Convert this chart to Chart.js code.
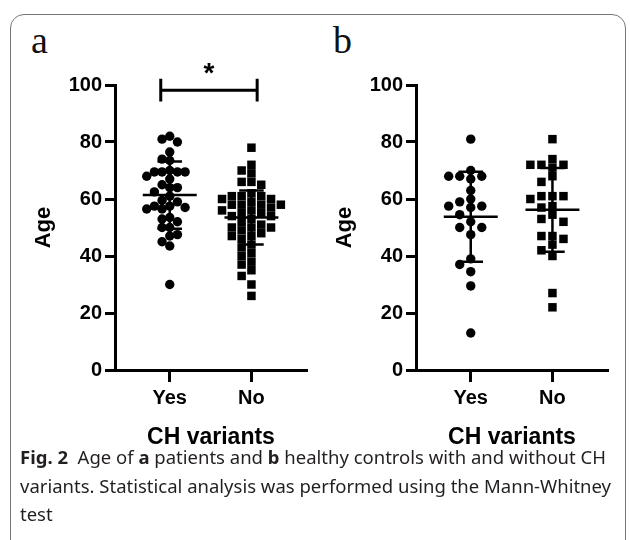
<!DOCTYPE html>
<html>
<head>
<meta charset="utf-8">
<script src="https://cdn.jsdelivr.net/npm/chart.js@4.4.0/dist/chart.umd.min.js"></script>
<style>
  body { margin: 0; background: #fff; width: 630px; height: 540px; position: relative; overflow: hidden; }
  #frame { position: absolute; left: 10px; top: 14px; width: 614px; height: 600px; border: 1px solid #777; border-radius: 14px; }
  .panel { position: absolute; top: 40px; }
  .tag { position: absolute; top: 18px; font-family: "Liberation Serif", serif; font-size: 38px; color: #111; }
  #caption { position: absolute; left: 20px; top: 443px; font-family: "Noto Sans", sans-serif; font-size: 18.5px; line-height: 28.5px; color: #231f20; white-space: nowrap; }
</style>
</head>
<body>
<div id="frame"></div>
<div class="tag" style="left:31px">a</div>
<div class="tag" style="left:333px">b</div>
<canvas id="chartA" class="panel" width="300" height="420" style="left:20px"></canvas>
<canvas id="chartB" class="panel" width="300" height="420" style="left:321px"></canvas>
<div id="caption"><b>Fig. 2</b>&nbsp; Age of <b>a</b> patients and <b>b</b> healthy controls with and without CH<br>variants. Statistical analysis was performed using the Mann-Whitney<br>test</div>

<script>
// values
const groups = ['Yes', 'No'];
const yTicks = [0, 20, 40, 60, 80, 100];

const patientsYes = [82, 81, 80, 76.5, 74, 73.5, 70, 69.5, 69.5, 69.5, 69.5, 68, 67, 65, 64, 64, 62.5, 61,
  59.5, 59, 57.5, 57.5, 57, 56.5, 56.5, 53.5, 53, 52, 50, 50, 47.5, 47, 45, 43.5, 30];
const patientsNo = [78, 72, 70, 69, 66, 66, 65, 62, 61, 61, 61, 60, 60, 59, 58, 58, 58, 58, 57, 56, 56, 55, 55,
  54, 54, 53, 52, 51, 50, 50, 50, 49, 48, 47, 47, 46, 44, 43, 41, 40, 38, 37, 35, 33, 30, 26];
const controlsYes = [81, 70, 68, 68, 68, 67, 63, 60, 59, 57.5, 57.5, 57, 54.5, 52, 50, 50, 47.5, 39, 37, 34.5, 29.5, 13];
const controlsNo = [81, 74, 72, 72, 72, 71, 68, 66, 61, 61, 61, 60, 57.5, 57, 54.5, 53, 52, 47, 47, 46, 44, 42, 40, 27, 22];

const patientMeans = [61.4, 53.5];
const patientSDs = [11.8, 9.5];
const controlMeans = [53.8, 56.2];
const controlSDs = [15.8, 14.7];

const fontFamily = '"Liberation Sans", Arial, sans-serif';

// spread the dots of one column sideways so they don't sit on top of each other
function swarm(values, center, step, minGap) {
  const placed = [];
  return values.map(v => {
    let k = 0;
    for (let i = 0; i < 30; i++) {
      k = i === 0 ? 0 : (i % 2 ? -Math.ceil(i / 2) : Math.ceil(i / 2));
      if (!placed.some(p => p.k === k && Math.abs(p.v - v) < minGap)) break;
    }
    placed.push({ k, v });
    return { x: center + k * step, y: v };
  });
}

// mean line + SD whiskers, broken up with null points
function errorBars(means, sds) {
  const pts = [];
  means.forEach((m, i) => {
    const c = i + 1, s = sds[i];
    pts.push({ x: c - 0.33, y: m }, { x: c + 0.33, y: m }, { x: c, y: null },
      { x: c, y: m + s }, { x: c, y: m - s }, { x: c, y: null },
      { x: c - 0.15, y: m + s }, { x: c + 0.15, y: m + s }, { x: c, y: null },
      { x: c - 0.15, y: m - s }, { x: c + 0.15, y: m - s }, { x: c, y: null });
  });
  return pts;
}

const sigBracket = {
  id: 'sigBracket',
  afterDraw(chart) {
    const { ctx, scales: { x, y } } = chart;
    const x1 = x.getPixelForValue(0.89), x2 = x.getPixelForValue(2.07);
    const yl = y.getPixelForValue(98.2);
    const yt = y.getPixelForValue(102.2), yb = y.getPixelForValue(94.2);
    ctx.save();
    ctx.strokeStyle = '#000';
    ctx.lineWidth = 3;
    ctx.beginPath();
    ctx.moveTo(x1, yt); ctx.lineTo(x1, yb);
    ctx.moveTo(x2, yt); ctx.lineTo(x2, yb);
    ctx.moveTo(x1, yl); ctx.lineTo(x2, yl);
    ctx.stroke();
    ctx.fillStyle = '#000';
    ctx.font = 'bold 28px ' + fontFamily;
    ctx.textAlign = 'center';
    ctx.textBaseline = 'alphabetic';
    ctx.fillText('*', (x1 + x2) / 2, y.getPixelForValue(106) + 14);
    ctx.restore();
  }
};

function makeChart(id, yesVals, noVals, means, sds, spread, plugins) {
  const tickFont = { family: fontFamily, size: 20, weight: 'bold' };
  return new Chart(document.getElementById(id), {
    type: 'scatter',
    data: {
      datasets: [
        {
          data: errorBars(means, sds),
          showLine: true,
          spanGaps: false,
          borderColor: '#000',
          borderWidth: 2.5,
          pointRadius: 0
        },
        {
          data: swarm(yesVals, 1, spread[0], spread[1]),
          pointStyle: 'circle',
          pointRadius: 4.7,
          backgroundColor: '#000',
          borderWidth: 0
        },
        {
          data: swarm(noVals, 2, spread[2], spread[3]),
          pointStyle: 'rect',
          pointRadius: 6,
          backgroundColor: '#000',
          borderWidth: 0
        }
      ]
    },
    options: {
      responsive: false,
      animation: false,
      layout: { padding: { top: 45, right: 13, left: 0, bottom: 0 } },
      plugins: {
        legend: { display: false },
        tooltip: { enabled: false }
      },
      scales: {
        x: {
          type: 'linear',
          min: 0.33,
          max: 2.68,
          afterBuildTicks: s => { s.ticks = groups.map((g, i) => ({ value: i + 1 })); },
          ticks: { callback: (v, i) => groups[i], font: tickFont, color: '#000', padding: 4, maxRotation: 0 },
          grid: { drawOnChartArea: false, drawTicks: true, tickLength: 12, tickWidth: 3, tickColor: '#000' },
          border: { color: '#000', width: 3 },
          title: {
            display: true,
            text: 'CH variants',
            color: '#000',
            font: { family: fontFamily, size: 23, weight: 'bold' },
            padding: { top: 0, bottom: 9 }
          },
          afterFit: s => { s.height = 90; }
        },
        y: {
          min: 0,
          max: 100,
          afterBuildTicks: s => { s.ticks = yTicks.map(v => ({ value: v })); },
          ticks: { font: tickFont, color: '#000', padding: 3 },
          grid: { drawOnChartArea: false, drawTicks: true, tickLength: 10, tickWidth: 3, tickColor: '#000' },
          border: { color: '#000', width: 3 },
          title: {
            display: true,
            text: 'Age',
            color: '#000',
            font: { family: fontFamily, size: 22, weight: 'bold' },
            padding: { top: 11, bottom: 0 }
          },
          afterFit: s => { s.width = 95; }
        }
      }
    },
    plugins: plugins
  });
}

makeChart('chartA', patientsYes, patientsNo, patientMeans, patientSDs, [0.094, 2.8, 0.12, 2.1], [sigBracket]);
makeChart('chartB', controlsYes, controlsNo, controlMeans, controlSDs, [0.135, 2.8, 0.135, 2.8], []);
</script>
</body>
</html>
